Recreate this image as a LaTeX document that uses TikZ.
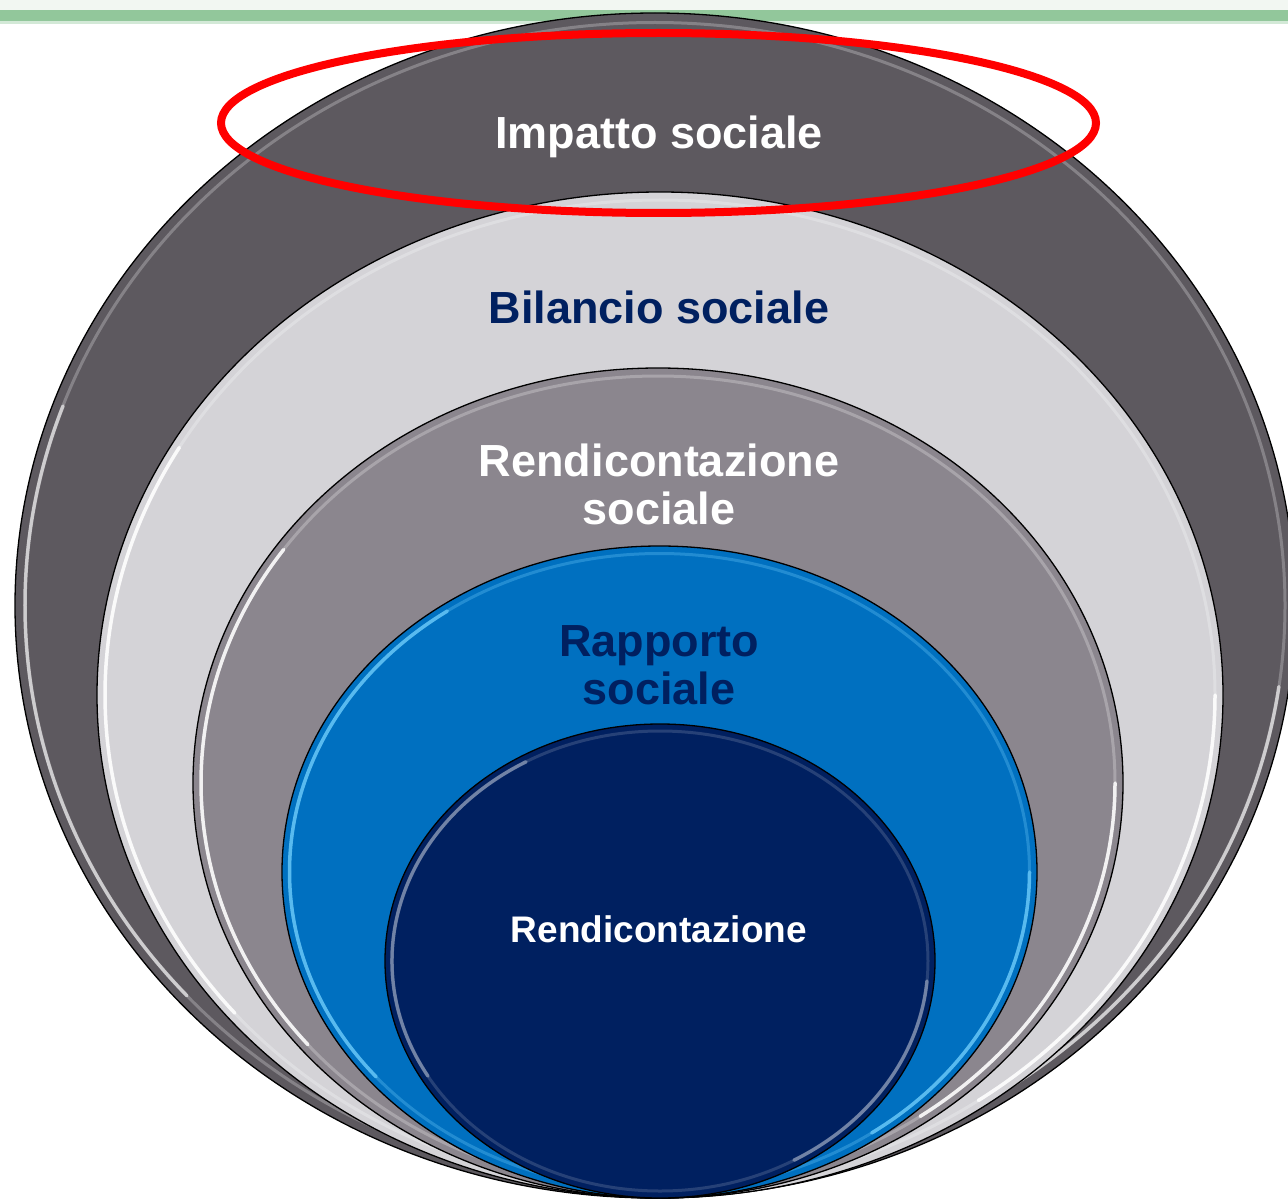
\documentclass[tikz,border=0pt]{standalone}
\usepackage{fontspec}
\setmainfont{Liberation Sans}
\newcommand\myhl[7]{% style, cx, cy, rx, ry, a, b
  \draw[#1, shift={(#2,#3)}] (#6:#4 and #5) arc[start angle=#6, end angle=#7, x radius=#4, y radius=#5];}
\begin{document}
\begin{tikzpicture}[x=1pt,y=-1pt]
\definecolor{gdark}{HTML}{5D595F}
\definecolor{glight}{HTML}{D4D3D7}
\definecolor{gmid}{HTML}{8B868E}
\definecolor{bblue}{HTML}{0070C0}
\definecolor{bnavy}{HTML}{002060}
\definecolor{stripbg}{HTML}{F2F7F2}
\definecolor{stripgreen}{HTML}{92C79B}
\definecolor{hiblue}{HTML}{62C3F5}
\tikzset{
  ring/.style={draw=black, line width=1.3},
  shine/.style={draw=white, line width=3, opacity=0.25},
  gleam/.style={draw=white, line width=3.5, opacity=0.85, line cap=round},
  lbl/.style={font=\bfseries\fontsize{45}{48}\selectfont, anchor=base, inner sep=0},
}
\useasboundingbox (0,0) rectangle (1288,1201);
\fill[white] (0,0) rectangle (1288,1201);
% top strip
\fill[stripbg] (0,0) rectangle (1288,10);
\fill[stripgreen] (0,10) rectangle (1288,21);
\fill[stripgreen!40] (0,21) rectangle (1288,24);
% level 1
\fill[gdark] (655,605.5) ellipse [x radius=640, y radius=592.5];
\draw[shine] (655,605.5) ellipse [x radius=630, y radius=583];
\myhl{gleam, opacity=0.6}{655}{605.5}{630}{583}{138}{200}
\myhl{gleam, opacity=0.6}{655}{605.5}{630}{583}{8}{57}
\draw[ring] (655,605.5) ellipse [x radius=640, y radius=592.5];
% level 2
\fill[glight] (660,695) ellipse [x radius=563, y radius=503];
\draw[shine] (660,695) ellipse [x radius=555, y radius=495];
\myhl{gleam}{660}{695}{555}{495}{140}{210}
\myhl{gleam}{660}{695}{555}{495}{0}{55}
\draw[ring] (660,695) ellipse [x radius=563, y radius=503];
% level 3
\fill[gmid] (658,783) ellipse [x radius=465, y radius=415];
\draw[shine] (658,783) ellipse [x radius=457, y radius=407];
\myhl{gleam}{658}{783}{457}{407}{140}{215}
\myhl{gleam}{658}{783}{457}{407}{0}{55}
\draw[ring] (658,783) ellipse [x radius=465, y radius=415];
% level 4
\fill[bblue] (659.5,872) ellipse [x radius=377.5, y radius=326];
\draw[hiblue, line width=3, opacity=0.35] (659.5,872) ellipse [x radius=370, y radius=318.5];
\myhl{gleam, draw=hiblue}{659.5}{872}{370}{318.5}{140}{235}
\myhl{gleam, draw=hiblue}{659.5}{872}{370}{318.5}{0}{55}
\draw[ring] (659.5,872) ellipse [x radius=377.5, y radius=326];
% level 5
\fill[bnavy] (660,961) ellipse [x radius=275, y radius=237];
\draw[white, line width=3, opacity=0.15] (660,961) ellipse [x radius=268, y radius=230];
\myhl{gleam, opacity=0.35}{660}{961}{268}{230}{150}{240}
\myhl{gleam, opacity=0.35}{660}{961}{268}{230}{5}{60}
\draw[ring] (660,961) ellipse [x radius=275, y radius=237];
% labels
\node[lbl, text=white] (impatto) at (659,149) {Impatto sociale};
\node[lbl, text=bnavy] (bilancio) at (659,323) {Bilancio sociale};
\node[lbl, text=white] (rendsoc1) at (659,476) {Rendicontazione};
\node[lbl, text=white] (rendsoc2) at (659,524) {sociale};
\node[lbl, text=bnavy] (rapp1) at (659,656) {Rapporto};
\node[lbl, text=bnavy] (rapp2) at (659,704) {sociale};
\node[lbl, text=white, font=\bfseries\fontsize{37}{40}\selectfont] (rend) at (659,942) {Rendicontazione};
% red highlight ellipse
\draw[red, line width=8] (658.5,123) ellipse [x radius=437.5, y radius=90];
\end{tikzpicture}
\end{document}
